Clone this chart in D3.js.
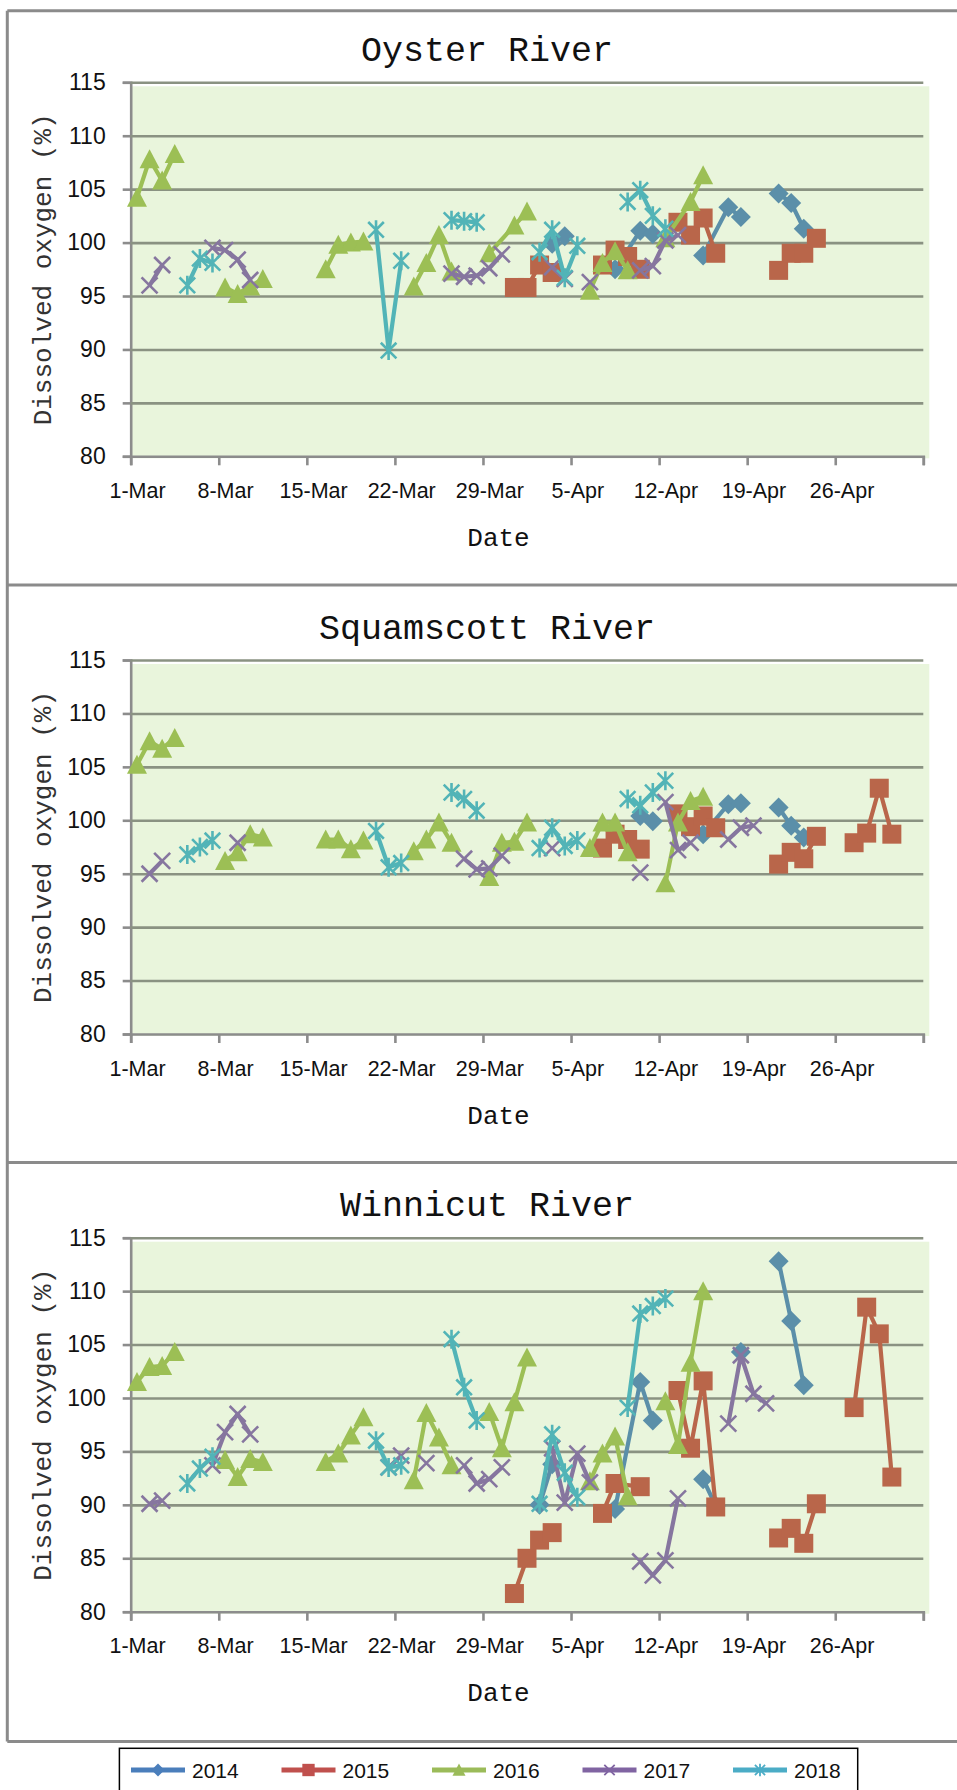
<!DOCTYPE html>
<html><head><meta charset="utf-8">
<script src="https://cdn.jsdelivr.net/npm/d3@7"></script>
<style>html,body{margin:0;padding:0;background:#fff;}svg{display:block;}</style>
</head><body>
<script>
// ---------- DATA ----------
const rivers = ["Oyster River", "Squamscott River", "Winnicut River"];
const years = ["2014", "2015", "2016", "2017", "2018"];
const yTicks = [80, 85, 90, 95, 100, 105, 110, 115];
const xTickLabels = ["1-Mar", "8-Mar", "15-Mar", "22-Mar", "29-Mar", "5-Apr", "12-Apr", "19-Apr", "26-Apr"];
const xAxisEnd = "3-May";
// [month/day, dissolved oxygen %]; null = gap in the line
const oyster2014 = [["4/3",99.9],["4/4",100.6],null,["4/8",97.5],["4/10",101.1],["4/11",100.8],null,["4/15",98.8],["4/17",103.3],["4/18",102.4],null,["4/21",104.6],["4/22",103.7],["4/23",101.3]];
const oyster2015 = [["3/31",95.8],["4/1",95.8],["4/2",97.9],["4/3",97.2],null,["4/7",97.9],["4/8",99.3],["4/9",98.7],["4/10",97.5],null,["4/13",101.9],["4/14",100.7],["4/15",102.3],["4/16",99.0],null,["4/21",97.4],["4/22",99.0],["4/23",99.0],["4/24",100.4]];
const oyster2016 = [["3/1",104.2],["3/2",107.8],["3/3",105.8],["3/4",108.3],null,["3/8",95.8],["3/9",95.2],["3/10",95.9],["3/11",96.6],null,["3/16",97.5],["3/17",99.8],["3/18",100.0],["3/19",100.1],null,["3/23",95.9],["3/24",98.1],["3/25",100.7],["3/26",97.3],null,["3/29",99.0],["3/31",101.6],["4/1",102.9],null,["4/6",95.5],["4/7",98.1],["4/8",99.2],["4/9",97.4],null,["4/12",100.4],["4/14",103.8],["4/15",106.3]];
const oyster2017 = [["3/2",96.0],["3/3",97.9],null,["3/7",99.5],["3/8",99.3],["3/9",98.4],["3/10",96.5],null,["3/26",97.1],["3/27",96.8],["3/28",96.9],["3/29",97.6],["3/30",98.9],null,["4/3",97.7],["4/4",96.6],null,["4/6",96.3],null,["4/10",97.4],["4/11",97.8],["4/12",100.2],["4/13",100.7]];
const oyster2018 = [["3/5",96.0],["3/6",98.5],["3/7",98.1],null,["3/20",101.2],["3/21",89.9],["3/22",98.3],null,["3/26",102.1],["3/27",102.0],["3/28",101.9],null,["4/2",99.1],["4/3",101.2],["4/4",96.7],["4/5",99.7],null,["4/9",103.8],["4/10",104.9],["4/11",102.5],["4/12",101.3]];

const squam2014 = [["4/10",100.4],["4/11",99.9],null,["4/15",98.7],["4/17",101.5],["4/18",101.6],null,["4/21",101.2],["4/22",99.5],["4/23",98.4]];
const squam2015 = [["4/7",97.4],["4/8",98.7],["4/9",98.2],["4/10",97.3],null,["4/13",100.6],["4/14",99.4],["4/15",100.4],["4/16",99.3],null,["4/21",95.9],["4/22",97.0],["4/23",96.4],["4/24",98.5],null,["4/27",97.9],["4/28",98.8],["4/29",103.0],["4/30",98.7]];
const squam2016 = [["3/1",105.2],["3/2",107.4],["3/3",106.7],["3/4",107.7],null,["3/8",96.2],["3/9",97.0],["3/10",98.7],["3/11",98.4],null,["3/16",98.2],["3/17",98.2],["3/18",97.3],["3/19",98.1],null,["3/23",97.1],["3/24",98.2],["3/25",99.8],["3/26",97.9],null,["3/29",94.7],["3/30",97.9],["3/31",98.0],["4/1",99.8],null,["4/6",97.4],["4/7",99.8],["4/8",99.8],["4/9",97.0],null,["4/12",94.1],["4/13",99.8],["4/14",101.8],["4/15",102.2]];
const squam2017 = [["3/2",95.0],["3/3",96.2],null,["3/9",97.9],null,["3/27",96.4],["3/28",95.4],["3/29",95.5],["3/30",96.7],null,["4/3",97.4],null,["4/10",95.1],null,["4/12",101.7],["4/13",97.2],["4/14",97.9],null,["4/17",98.2],["4/18",99.3],["4/19",99.5]];
const squam2018 = [["3/5",96.8],["3/6",97.5],["3/7",98.1],null,["3/20",99.0],["3/21",95.6],["3/22",96.0],null,["3/26",102.6],["3/27",102.0],["3/28",100.9],null,["4/2",97.4],["4/3",99.3],["4/4",97.6],["4/5",98.1],null,["4/9",102.0],["4/10",101.4],["4/11",102.6],["4/12",103.7]];

const winni2014 = [["4/2",90.0],["4/3",93.8],null,["4/8",89.6],["4/10",101.5],["4/11",97.9],null,["4/15",92.4],["4/16",89.9],null,["4/18",104.3],null,["4/21",112.8],["4/22",107.2],["4/23",101.2]];
const winni2015 = [["3/31",81.7],["4/1",85.0],["4/2",86.7],["4/3",87.4],null,["4/7",89.2],["4/8",92.0],["4/10",91.7],null,["4/13",100.7],["4/14",95.3],["4/15",101.6],["4/16",89.8],null,["4/21",86.9],["4/22",87.8],["4/23",86.4],["4/24",90.1],null,["4/27",99.1],["4/28",108.5],["4/29",106.0],["4/30",92.6]];
const winni2016 = [["3/1",101.5],["3/2",102.9],["3/3",103.0],["3/4",104.3],null,["3/8",94.2],["3/9",92.6],["3/10",94.3],["3/11",94.0],null,["3/16",94.0],["3/17",94.8],["3/18",96.5],["3/19",98.2],null,["3/23",92.3],["3/24",98.6],["3/25",96.3],["3/26",93.7],null,["3/29",98.7],["3/30",95.3],["3/31",99.6],["4/1",103.8],null,["4/6",92.2],["4/7",94.8],["4/8",96.4],["4/9",90.8],null,["4/12",99.7],["4/13",95.6],["4/14",103.3],["4/15",110.0]];
const winni2017 = [["3/2",90.1],["3/3",90.4],null,["3/7",93.7],["3/8",96.8],["3/9",98.5],["3/10",96.6],null,["3/21",93.5],["3/22",94.6],null,["3/24",93.9],null,["3/27",93.7],["3/28",92.0],["3/29",92.4],["3/30",93.5],null,["4/3",95.3],["4/4",90.2],["4/5",94.8],["4/6",92.1],null,["4/10",84.7],["4/11",83.4],["4/12",84.8],["4/13",90.6],null,["4/17",97.6],["4/18",104.0],["4/19",100.4],["4/20",99.5]];
const winni2018 = [["3/5",92.0],["3/6",93.4],["3/7",94.5],null,["3/20",96.0],["3/21",93.5],["3/22",93.7],null,["3/26",105.5],["3/27",101.0],["3/28",97.9],null,["4/2",90.1],["4/3",96.6],["4/4",93.0],["4/5",90.7],null,["4/9",99.1],["4/10",107.9],["4/11",108.6],["4/12",109.3]];

const riverSeries = [
  [oyster2014, oyster2015, oyster2016, oyster2017, oyster2018],
  [squam2014, squam2015, squam2016, squam2017, squam2018],
  [winni2014, winni2015, winni2016, winni2017, winni2018]
];

// ---------- STYLE ----------
const plotColors = ["#5b8fa9", "#b9664a", "#9cbf55", "#86769f", "#52b4b7"];
const legendColors = ["#4a7ebb", "#c0504d", "#9bbb59", "#8064a2", "#4bacc6"];
const markerKinds = ["diamond", "square", "triangle", "x", "star"];
const MONO = "'Liberation Mono','DejaVu Sans Mono',monospace";
const SANS = "'Liberation Sans','Arial',sans-serif";

const W = 957, H = 1790;
const panelStep = 577.7;
const svg = d3.select("body").append("svg").attr("width", W).attr("height", H)
  .style("background", "#fff");

const monthIdx = {Mar: 2, Apr: 3, May: 4};
function parseMD(s) { const [m, d] = s.split("/").map(Number); return new Date(Date.UTC(2000, m - 1, d, 12)); }
function parseLabel(s) { const [d, m] = s.split("-"); return new Date(Date.UTC(2000, monthIdx[m], +d)); }

const tickDates = xTickLabels.map(parseLabel).concat([parseLabel(xAxisEnd)]);
const x = d3.scaleUtc().domain([tickDates[0], tickDates[tickDates.length - 1]]).range([130.7, 923.3]);
const halfDay = x(new Date(Date.UTC(2000, 2, 1, 12))) - x(tickDates[0]);

function markerPath(kind, s) {
  const p = d3.path();
  if (kind === "diamond") { p.moveTo(0, -s); p.lineTo(s, 0); p.lineTo(0, s); p.lineTo(-s, 0); p.closePath(); }
  else if (kind === "square") { p.rect(-s * 0.95, -s * 0.95, s * 1.9, s * 1.9); }
  else if (kind === "triangle") { p.moveTo(0, -s * 1.0); p.lineTo(s * 1.0, s * 0.9); p.lineTo(-s * 1.0, s * 0.9); p.closePath(); }
  else if (kind === "x") { const a = s * 0.8; p.moveTo(-a, -a); p.lineTo(a, a); p.moveTo(a, -a); p.lineTo(-a, a); }
  else { const a = s * 0.78; p.moveTo(-a, -a); p.lineTo(a, a); p.moveTo(a, -a); p.lineTo(-a, a); p.moveTo(0, -s * 0.95); p.lineTo(0, s * 0.95); }
  return p.toString();
}
function drawMarker(g, kind, color, cx, cy, s, sw) {
  const path = g.append("path").attr("d", markerPath(kind, s)).attr("transform", `translate(${cx},${cy})`);
  if (kind === "x" || kind === "star") path.attr("fill", "none").attr("stroke", color).attr("stroke-width", sw);
  else path.attr("fill", color).attr("stroke", "none");
}

// ---------- FRAMES ----------
const frame = svg.append("g").attr("stroke", "#8b8b8b").attr("stroke-width", 3);
const frameYs = [10.7, 585, 1162.5, 1741.5];
frameYs.forEach(fy => frame.append("line").attr("x1", 7.3).attr("x2", W + 5).attr("y1", fy).attr("y2", fy));
frame.append("line").attr("x1", 7.3).attr("x2", 7.3).attr("y1", frameYs[0]).attr("y2", frameYs[3]);

// ---------- PANELS ----------
rivers.forEach((river, i) => {
  const oy = i * panelStep;
  const y = d3.scaleLinear().domain([80, 115]).range([456.3 + oy, 82.3 + oy]);
  const g = svg.append("g");
  const x0 = x.range()[0], x1 = x.range()[1];

  g.append("rect").attr("x", x0 + 1).attr("y", y(115) + 4).attr("width", x1 - x0 + 5)
    .attr("height", y(80) - y(115) - 2).attr("fill", "#e9f5dc");

  // gridlines + y axis
  const yAxis = d3.axisLeft(y).tickValues(yTicks).tickSize(8).tickPadding(17).tickFormat(d3.format("d"));
  const ya = g.append("g").attr("transform", `translate(${x0},0)`).call(yAxis);
  ya.select(".domain").attr("stroke", "#8c8c8c").attr("stroke-width", 2.6);
  ya.selectAll(".tick line").attr("stroke", "#8c8c8c").attr("stroke-width", 2.6);
  ya.selectAll(".tick text").attr("font-family", SANS).attr("font-size", 23).attr("fill", "#111");
  const grid = d3.axisLeft(y).tickValues(yTicks.filter(v => v > 80)).tickSize(-(x1 - x0)).tickFormat("");
  const gg = g.append("g").attr("transform", `translate(${x0},0)`).call(grid);
  gg.select(".domain").remove();
  gg.selectAll(".tick line").attr("stroke", "#8a9282").attr("stroke-width", 2.6);

  // x axis
  const xAxis = d3.axisBottom(x).tickValues(tickDates).tickSize(9).tickPadding(12)
    .tickFormat((d, k) => xTickLabels[k] || "");
  const xa = g.append("g").attr("transform", `translate(0,${y(80)})`).call(xAxis);
  xa.select(".domain").attr("stroke", "#8c8c8c").attr("stroke-width", 2.6);
  xa.selectAll(".tick line").attr("stroke", "#8c8c8c").attr("stroke-width", 2.6);
  xa.selectAll(".tick text").attr("font-family", SANS).attr("font-size", 21.5).attr("fill", "#111")
    .attr("x", halfDay).attr("dy", null).attr("y", 41.5).attr("dominant-baseline", "alphabetic");

  // titles
  g.append("text").attr("x", 487).attr("y", 61 + oy).attr("text-anchor", "middle")
    .attr("font-family", MONO).attr("font-size", 35).attr("fill", "#111").text(river);
  g.append("text").attr("x", 498.5).attr("y", 546 + oy).attr("text-anchor", "middle")
    .attr("font-family", MONO).attr("font-size", 26).attr("fill", "#111").text("Date");
  g.append("text").attr("transform", `translate(51,${(y(80) + y(115)) / 2}) rotate(-90)`)
    .attr("text-anchor", "middle").attr("font-family", MONO).attr("font-size", 26).attr("fill", "#333")
    .text("Dissolved oxygen (%)");

  // series
  const line = d3.line().defined(d => d !== null).x(d => x(parseMD(d[0]))).y(d => y(d[1]));
  riverSeries[i].forEach((data, k) => {
    const sg = g.append("g");
    sg.append("path").datum(data).attr("d", line).attr("fill", "none")
      .attr("stroke", plotColors[k]).attr("stroke-width", 4.2).attr("stroke-linejoin", "round");
    data.filter(d => d !== null).forEach(d =>
      drawMarker(sg, markerKinds[k], plotColors[k], x(parseMD(d[0])), y(d[1]), 10, 2.6));
  });
});

// ---------- LEGEND ----------
const lg = svg.append("g");
lg.append("rect").attr("x", 119.4).attr("y", 1748.3).attr("width", 738.3).attr("height", 70)
  .attr("fill", "#fff").attr("stroke", "#000").attr("stroke-width", 1.5);
const lx = d3.scalePoint().domain(years).range([131, 733]);
years.forEach((yr, k) => {
  const sx = lx(yr);
  lg.append("line").attr("x1", sx).attr("x2", sx + 54).attr("y1", 1770).attr("y2", 1770)
    .attr("stroke", legendColors[k]).attr("stroke-width", 5);
  drawMarker(lg, markerKinds[k], legendColors[k], sx + 27, 1770, 6.5, 1.8);
  lg.append("text").attr("x", sx + 61).attr("y", 1778).attr("font-family", SANS).attr("font-size", 21)
    .attr("fill", "#111").text(yr);
});
</script>
</body></html>
